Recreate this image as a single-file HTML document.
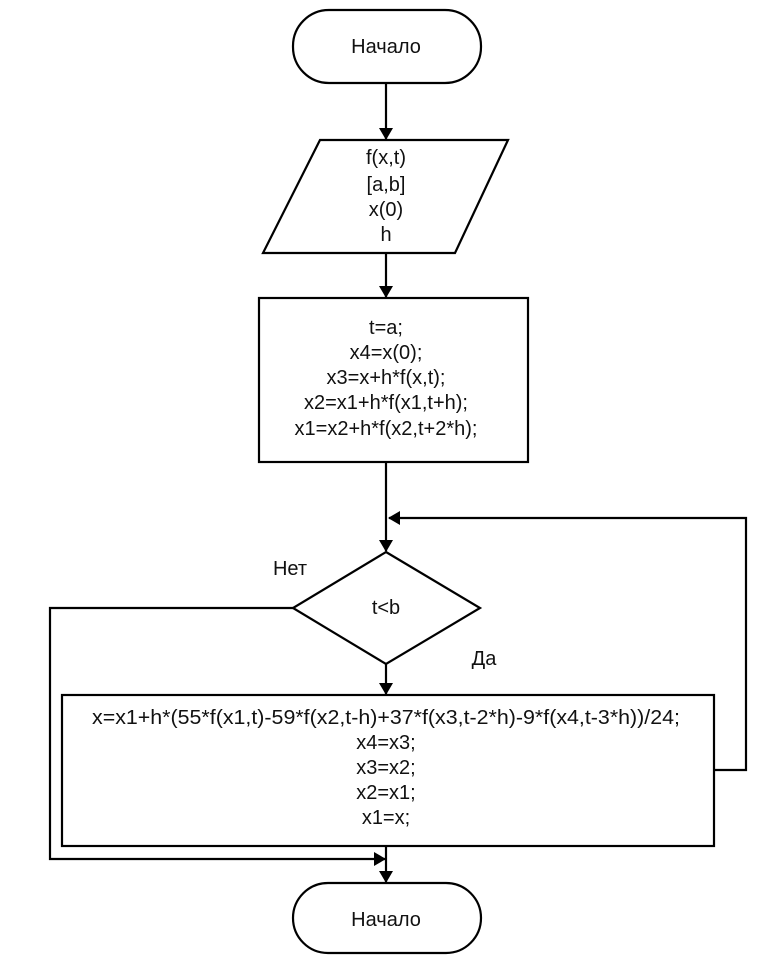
<!DOCTYPE html>
<html><head><meta charset="utf-8"><style>body{margin:0;background:#fff}svg{display:block}</style></head><body>
<svg width="780" height="980" viewBox="0 0 780 980" xmlns="http://www.w3.org/2000/svg" font-family="Liberation Sans, sans-serif" font-size="20" fill="#111">
<defs><marker id="a" markerWidth="12" markerHeight="14" refX="11" refY="7" orient="auto" markerUnits="userSpaceOnUse"><path d="M0,0 L12,7 L0,14 z" fill="#000"/></marker></defs>
<g stroke="#000" stroke-width="2.2" fill="none">
<rect x="293" y="10" width="188" height="73" rx="36" fill="#fff"/>
<line x1="386" y1="83" x2="386" y2="139" marker-end="url(#a)"/>
<polygon points="320,140 508,140 455,253 263,253" fill="#fff"/>
<line x1="386" y1="253" x2="386" y2="297" marker-end="url(#a)"/>
<rect x="259" y="298" width="269" height="164" fill="#fff"/>
<line x1="386" y1="462" x2="386" y2="551" marker-end="url(#a)"/>
<polyline points="714,770 746,770 746,518 389,518" marker-end="url(#a)"/>
<polygon points="386,552 480,608 386,664 293,608" fill="#fff"/>
<line x1="386" y1="664" x2="386" y2="694" marker-end="url(#a)"/>
<rect x="62" y="695" width="652" height="151" fill="#fff"/>
<polyline points="293,608 50,608 50,859 385,859" marker-end="url(#a)"/>
<line x1="386" y1="846" x2="386" y2="882" marker-end="url(#a)"/>
<rect x="293" y="883" width="188" height="70" rx="35" fill="#fff"/>
</g>
<g text-anchor="middle">
<text x="386" y="53">Начало</text>
<text x="386" y="164">f(x,t)</text>
<text x="386" y="191">[a,b]</text>
<text x="386" y="216">x(0)</text>
<text x="386" y="241">h</text>
<text x="386" y="334">t=a;</text>
<text x="386" y="359">x4=x(0);</text>
<text x="386" y="384">x3=x+h*f(x,t);</text>
<text x="386" y="409">x2=x1+h*f(x1,t+h);</text>
<text x="386" y="435">x1=x2+h*f(x2,t+2*h);</text>
<text x="386" y="614">t&lt;b</text>
<text x="386" y="724" textLength="588" lengthAdjust="spacingAndGlyphs">x=x1+h*(55*f(x1,t)-59*f(x2,t-h)+37*f(x3,t-2*h)-9*f(x4,t-3*h))/24;</text>
<text x="386" y="749">x4=x3;</text>
<text x="386" y="774">x3=x2;</text>
<text x="386" y="799">x2=x1;</text>
<text x="386" y="824">x1=x;</text>
<text x="386" y="926">Начало</text>
<text x="290" y="575">Нет</text>
<text x="484" y="665">Да</text>
</g>
</svg>
</body></html>
